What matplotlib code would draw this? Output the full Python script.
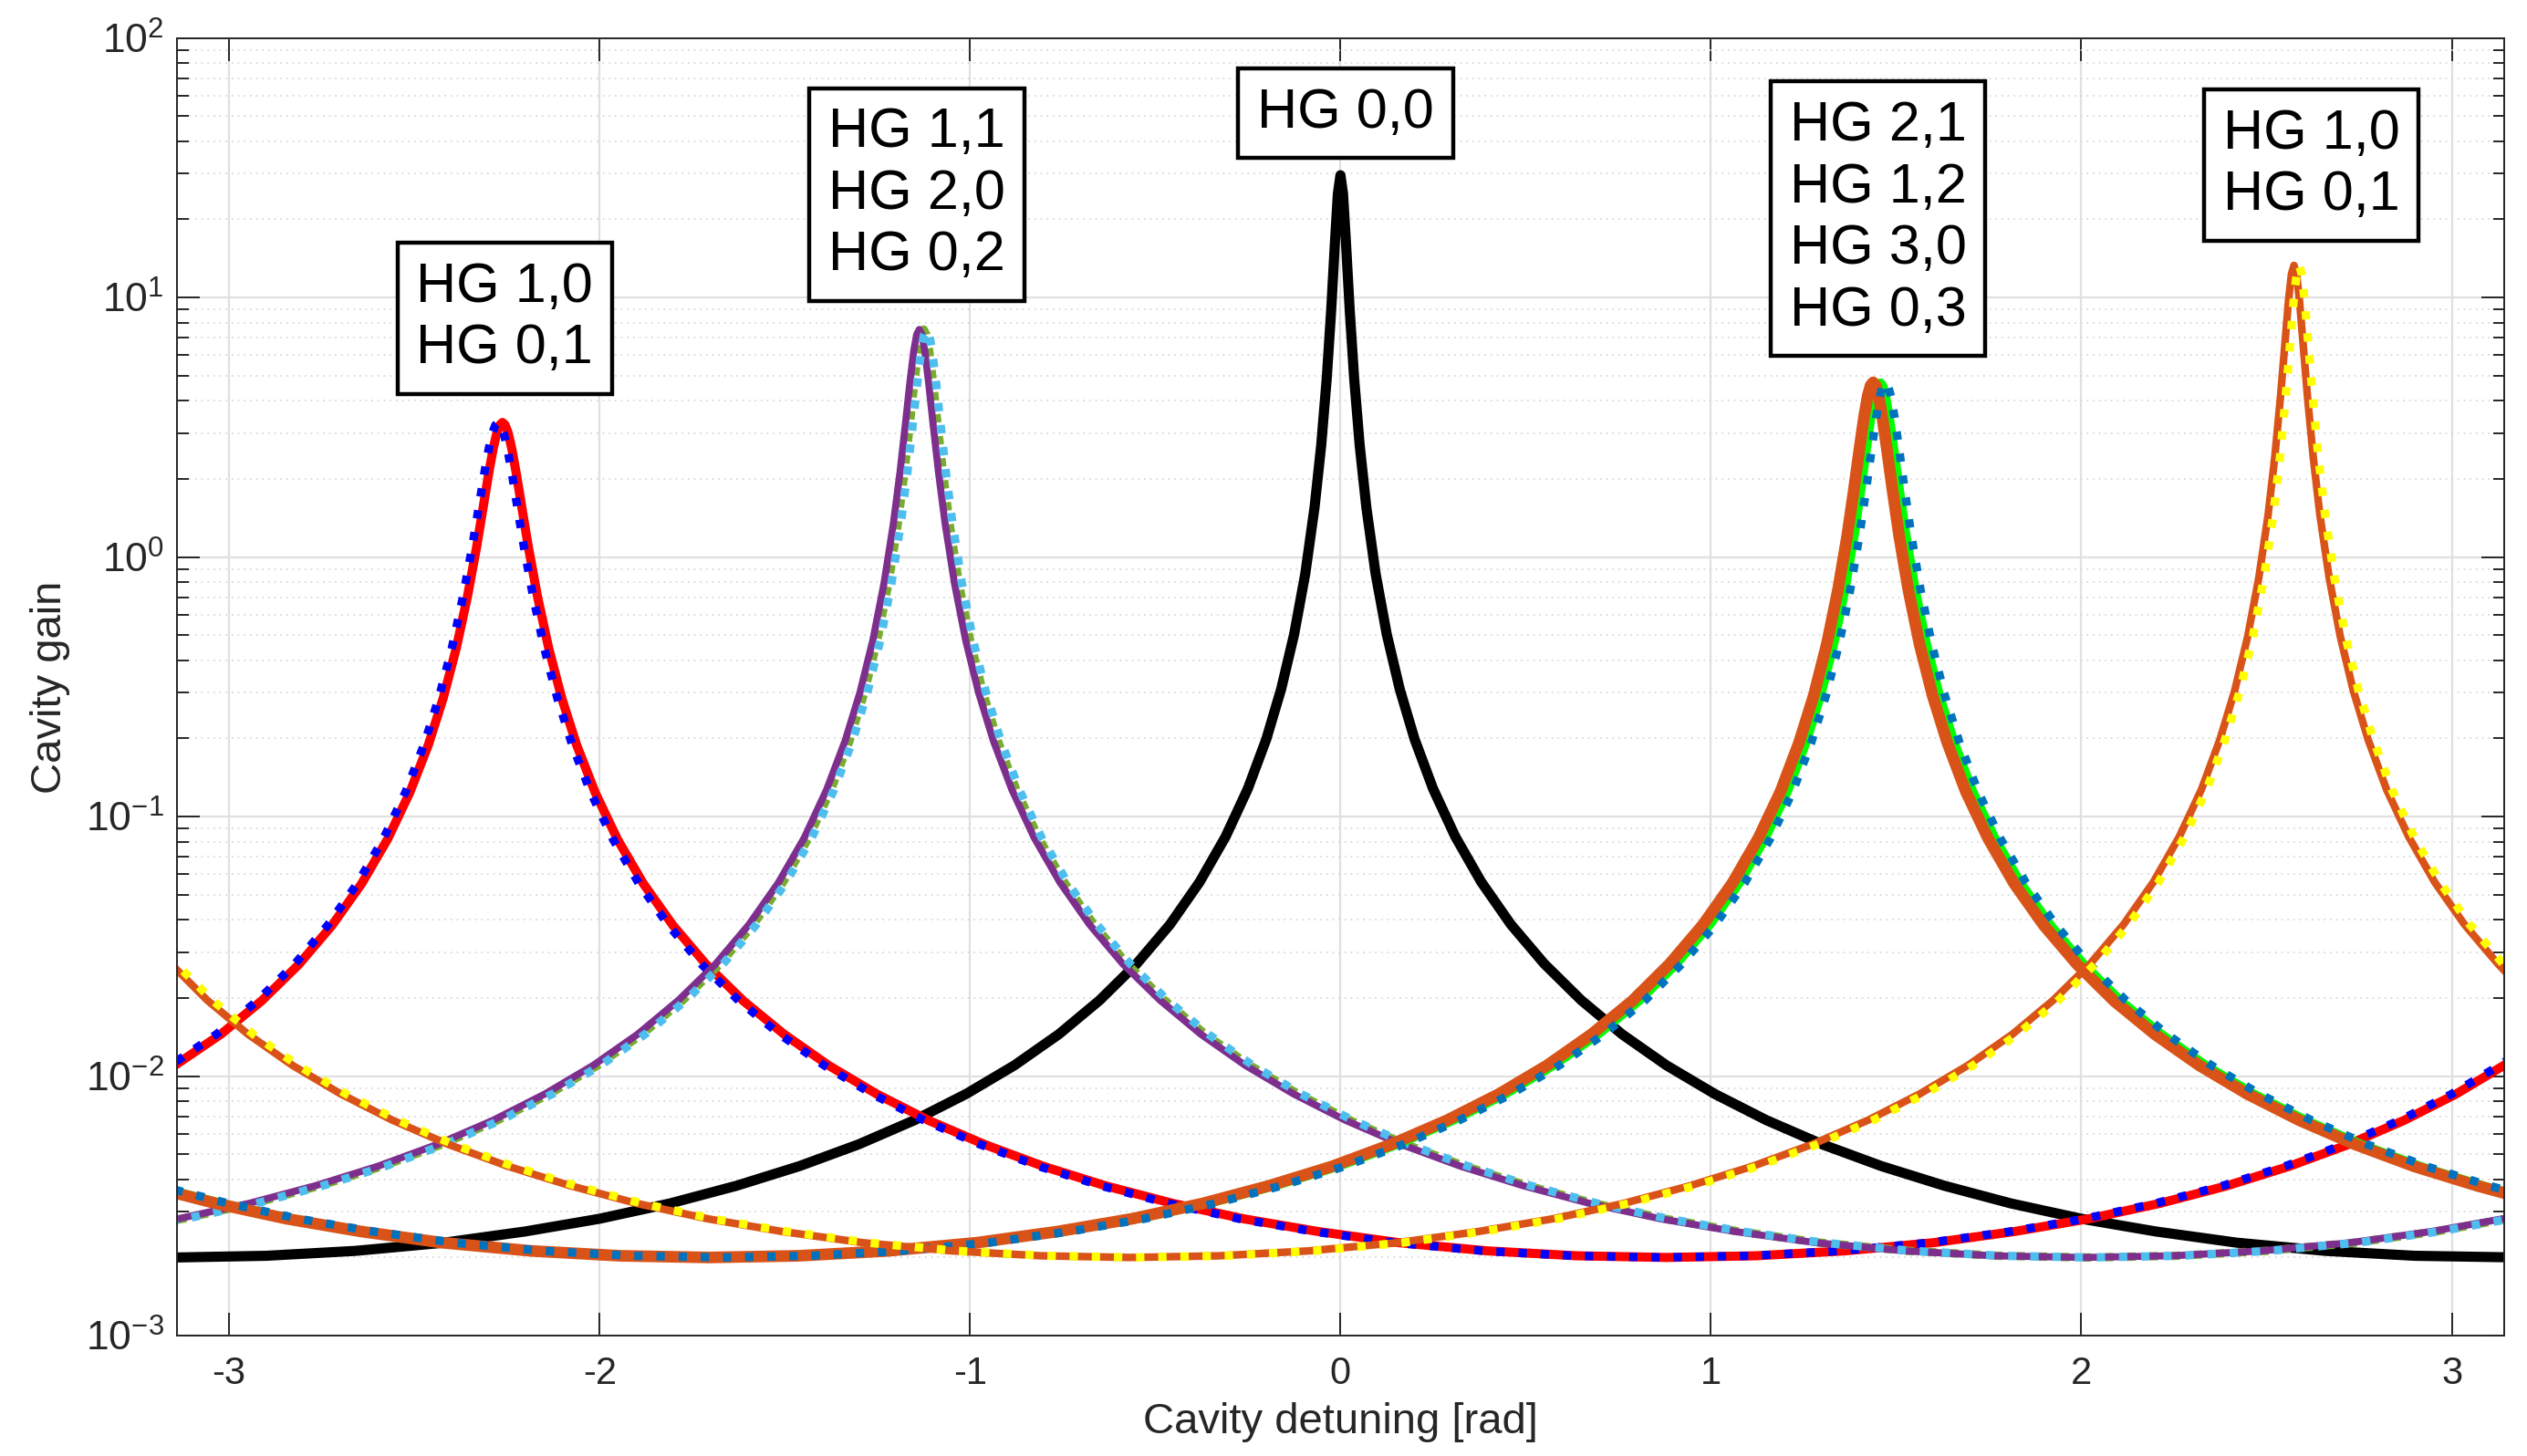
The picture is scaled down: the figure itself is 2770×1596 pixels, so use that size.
import matplotlib.pyplot as plt
import numpy as np

# cavity gain, one list pair per mode family
x_hg10a = [-3.18, -3.022, -2.912, -2.812, -2.722, -2.642, -2.572, -2.512, -2.462, -2.422, -2.387, -2.357, -2.332, -2.314,
           -2.299, -2.287, -2.277, -2.269, -2.262, -2.255, -2.247, -2.237, -2.225, -2.21, -2.192, -2.167, -2.137, -2.102, -2.062,
           -2.012, -1.952, -1.882, -1.802, -1.712, -1.612, -1.502, -1.382, -1.252, -1.112, -0.962, -0.802, -0.632, -0.452, -0.262,
           -0.062, 0.158, 0.398, 0.638, 0.88, 1.121, 1.361, 1.601, 1.821, 2.021, 2.211, 2.391, 2.561, 2.721, 2.871, 3.011, 3.141, 3.18]
g_hg10a = [0.0102, 0.0145, 0.0195, 0.0269, 0.0381, 0.0552, 0.0819, 0.124, 0.189, 0.286, 0.444, 0.699, 1.09, 1.56, 2.11, 2.62,
           3.02, 3.23, 3.3, 3.23, 3.02, 2.62, 2.11, 1.56, 1.09, 0.699, 0.444, 0.286, 0.189, 0.124, 0.0819, 0.0552, 0.0381, 0.0269,
           0.0195, 0.0145, 0.011, 0.00853, 0.00675, 0.00546, 0.00449, 0.00377, 0.00323, 0.00282, 0.00252, 0.00228, 0.00212, 0.00203,
           0.002, 0.00203, 0.00212, 0.00228, 0.00252, 0.00282, 0.00323, 0.00377, 0.00449, 0.00545, 0.00675, 0.00852, 0.011, 0.012]

x_hg11 = [-3.18, -3.137, -2.947, -2.767, -2.597, -2.437, -2.287, -2.147, -2.017, -1.897, -1.787, -1.687, -1.597, -1.517,
          -1.447, -1.387, -1.337, -1.297, -1.262, -1.232, -1.207, -1.189, -1.174, -1.162, -1.152, -1.144, -1.137, -1.13, -1.122,
          -1.112, -1.1, -1.085, -1.067, -1.042, -1.012, -0.977, -0.937, -0.887, -0.827, -0.757, -0.677, -0.587, -0.487, -0.377, -0.257,
          -0.127, 0.013, 0.163, 0.323, 0.493, 0.673, 0.863, 1.063, 1.283, 1.523, 1.763, 2.005, 2.246, 2.486, 2.726, 2.946, 3.18]
g_hg11 = [0.00275, 0.00282, 0.00323, 0.00378, 0.0045, 0.00546, 0.00676, 0.00854, 0.011, 0.0145, 0.0196, 0.027, 0.0383,
          0.0557, 0.083, 0.127, 0.196, 0.301, 0.48, 0.794, 1.34, 2.12, 3.29, 4.74, 6.21, 7.2, 7.53, 7.2, 6.21, 4.74, 3.29, 2.12, 1.34,
          0.794, 0.48, 0.301, 0.196, 0.127, 0.083, 0.0557, 0.0383, 0.027, 0.0196, 0.0145, 0.011, 0.00854, 0.00676, 0.00546, 0.0045,
          0.00378, 0.00323, 0.00282, 0.00252, 0.00228, 0.00212, 0.00203, 0.002, 0.00203, 0.00212, 0.00228, 0.00252, 0.00289]

x_hg00 = [-3.18, -3.142, -2.9, -2.66, -2.42, -2.2, -2, -1.81, -1.63, -1.46, -1.3, -1.15, -1.01, -0.88, -0.76, -0.65, -0.55,
          -0.46, -0.38, -0.31, -0.25, -0.2, -0.16, -0.125, -0.095, -0.07, -0.052, -0.037, -0.025, -0.015, -0.007, 0, 0.007, 0.015,
          0.025, 0.037, 0.052, 0.07, 0.095, 0.125, 0.16, 0.2, 0.25, 0.31, 0.38, 0.46, 0.55, 0.65, 0.76, 0.88, 1.01, 1.15, 1.3, 1.46,
          1.63, 1.81, 2, 2.2, 2.42, 2.66, 2.9, 3.18]
g_hg00 = [0.002, 0.002, 0.00203, 0.00212, 0.00228, 0.00252, 0.00282, 0.00323, 0.00378, 0.0045, 0.00546, 0.00676, 0.00854,
          0.011, 0.0145, 0.0196, 0.0271, 0.0384, 0.056, 0.0837, 0.128, 0.199, 0.31, 0.504, 0.861, 1.55, 2.69, 4.88, 8.94, 16.2, 25.1,
          29.6, 25.1, 16.2, 8.94, 4.88, 2.69, 1.55, 0.861, 0.504, 0.31, 0.199, 0.128, 0.0837, 0.056, 0.0384, 0.0271, 0.0196, 0.0145,
          0.011, 0.00854, 0.00676, 0.00546, 0.0045, 0.00378, 0.00323, 0.00282, 0.00252, 0.00228, 0.00212, 0.00203, 0.002]

x_hg21 = [-3.18, -3.035, -2.845, -2.645, -2.425, -2.185, -1.945, -1.704, -1.462, -1.222, -0.982, -0.762, -0.562, -0.372,
          -0.192, -0.022, 0.138, 0.288, 0.428, 0.558, 0.678, 0.788, 0.888, 0.978, 1.058, 1.128, 1.188, 1.238, 1.278, 1.313, 1.343,
          1.368, 1.386, 1.401, 1.413, 1.423, 1.431, 1.438, 1.445, 1.453, 1.463, 1.475, 1.49, 1.508, 1.533, 1.563, 1.598, 1.638, 1.688,
          1.748, 1.818, 1.898, 1.988, 2.088, 2.198, 2.318, 2.448, 2.588, 2.738, 2.898, 3.068, 3.18]
g_hg21 = [0.00365, 0.00323, 0.00282, 0.00252, 0.00228, 0.00212, 0.00203, 0.002, 0.00203, 0.00212, 0.00228, 0.00252, 0.00282,
          0.00323, 0.00378, 0.00449, 0.00546, 0.00676, 0.00853, 0.011, 0.0145, 0.0195, 0.027, 0.0382, 0.0554, 0.0825, 0.125, 0.193,
          0.294, 0.463, 0.747, 1.21, 1.82, 2.61, 3.44, 4.16, 4.58, 4.71, 4.58, 4.16, 3.44, 2.61, 1.82, 1.21, 0.747, 0.463, 0.294,
          0.193, 0.125, 0.0825, 0.0554, 0.0382, 0.027, 0.0195, 0.0145, 0.011, 0.00853, 0.00676, 0.00546, 0.00449, 0.00378, 0.00342]

x_hg10b = [-3.18, -3.059, -2.949, -2.829, -2.699, -2.559, -2.409, -2.249, -2.079, -1.899, -1.709, -1.509, -1.289, -1.049,
           -0.809, -0.568, -0.326, -0.086, 0.154, 0.374, 0.574, 0.764, 0.944, 1.114, 1.274, 1.424, 1.564, 1.694, 1.814, 1.924, 2.024,
           2.114, 2.194, 2.264, 2.324, 2.374, 2.414, 2.449, 2.479, 2.504, 2.522, 2.537, 2.549, 2.559, 2.567, 2.574, 2.581, 2.589, 2.599,
           2.611, 2.626, 2.644, 2.669, 2.699, 2.734, 2.774, 2.824, 2.884, 2.954, 3.034, 3.124, 3.18]
g_hg10b = [0.0292, 0.0196, 0.0145, 0.011, 0.00854, 0.00676, 0.00546, 0.0045, 0.00378, 0.00323, 0.00282, 0.00252, 0.00228,
           0.00212, 0.00203, 0.002, 0.00203, 0.00212, 0.00228, 0.00252, 0.00282, 0.00323, 0.00378, 0.0045, 0.00546, 0.00676, 0.00854,
           0.011, 0.0145, 0.0196, 0.0271, 0.0384, 0.0558, 0.0834, 0.127, 0.198, 0.306, 0.494, 0.832, 1.45, 2.42, 4.06, 6.52, 9.68, 12.3,
           13.3, 12.3, 9.68, 6.52, 4.06, 2.42, 1.45, 0.832, 0.494, 0.306, 0.198, 0.127, 0.0834, 0.0558, 0.0384, 0.0271, 0.0224]

labels = ['HG 1,0\nHG 0,1', 'HG 1,1\nHG 2,0\nHG 0,2', 'HG 0,0',
          'HG 2,1\nHG 1,2\nHG 3,0\nHG 0,3', 'HG 1,0\nHG 0,1']
label_x = [-2.256, -1.144, 0.014, 1.451, 2.621]
label_y = [8.3, 24.9, 51.3, 20.1, 32.4]

plt.rcParams['font.family'] = ['Liberation Sans', 'DejaVu Sans']
plt.rcParams['axes.unicode_minus'] = False

fig = plt.figure(figsize=(13.85, 7.98), dpi=200)
ax = fig.add_axes([0.0699, 0.0827, 0.9211, 0.8912])

dots = (0, (1, 1.65))
dots_between = (1.3, (1, 1.65))
# x, gain, small peak offset between overlaid traces, colour, style, width
curves = [
    (x_hg00, g_hg00, 0.0, 'k', '-', 4.0),
    (x_hg10a, g_hg10a, 0.0, '#FF0000', '-', 3.6),
    (x_hg10a, g_hg10a, -0.012, '#0000FF', dots, 3.3),
    (x_hg11, g_hg11, 0.012, '#77AC30', dots_between, 3.3),
    (x_hg11, g_hg11, 0.0, '#7E2F8E', '-', 2.8),
    (x_hg11, g_hg11, 0.02, '#4DBEEE', dots, 3.3),
    (x_hg21, g_hg21, 0.02, '#00FF00', '-', 3.2),
    (x_hg21, g_hg21, 0.0, '#D95319', '-', 4.6),
    (x_hg21, g_hg21, 0.033, '#0072BD', dots, 3.3),
    (x_hg10b, g_hg10b, 0.0, '#D95319', '-', 3.0),
    (x_hg10b, g_hg10b, 0.014, '#FFFF00', dots, 3.3),
]
for x, g, dx, c, ls, lw in curves:
    ax.plot(np.array(x) + dx, g, color=c, linestyle=ls, linewidth=lw)

for s, tx, ty in zip(labels, label_x, label_y):
    ax.text(tx, ty, s, ha='center', va='center', fontsize=22, linespacing=1.24,
            bbox=dict(boxstyle='square,pad=0.34', facecolor='white', edgecolor='black', linewidth=1.6))

ax.set_yscale('log')
ax.set_xlim(-np.pi, np.pi)
ax.set_ylim(1e-3, 1e2)
ax.set_xticks([-3, -2, -1, 0, 1, 2, 3])

ax.set_axisbelow(True)
ax.grid(True, which='major', color='#e0e0e0', linewidth=0.8)
ax.grid(True, which='minor', axis='y', color='#d4d4d4', linestyle=(0, (1, 3)), linewidth=0.6)
ax.tick_params(which='both', direction='in', top=True, right=True, colors='#262626', width=0.7)
ax.tick_params(which='major', length=9)
ax.tick_params(which='minor', length=4.5)
ax.tick_params(axis='x', labelsize=15, pad=8)
ax.tick_params(axis='y', labelsize=16, pad=5)
for sp in ax.spines.values():
    sp.set_color('#262626')
    sp.set_linewidth(0.7)

ax.set_xlabel('Cavity detuning [rad]', fontsize=17, color='#262626', labelpad=4)
ax.set_ylabel('Cavity gain', fontsize=17, color='#262626', labelpad=6)

fig.savefig('out.png')
